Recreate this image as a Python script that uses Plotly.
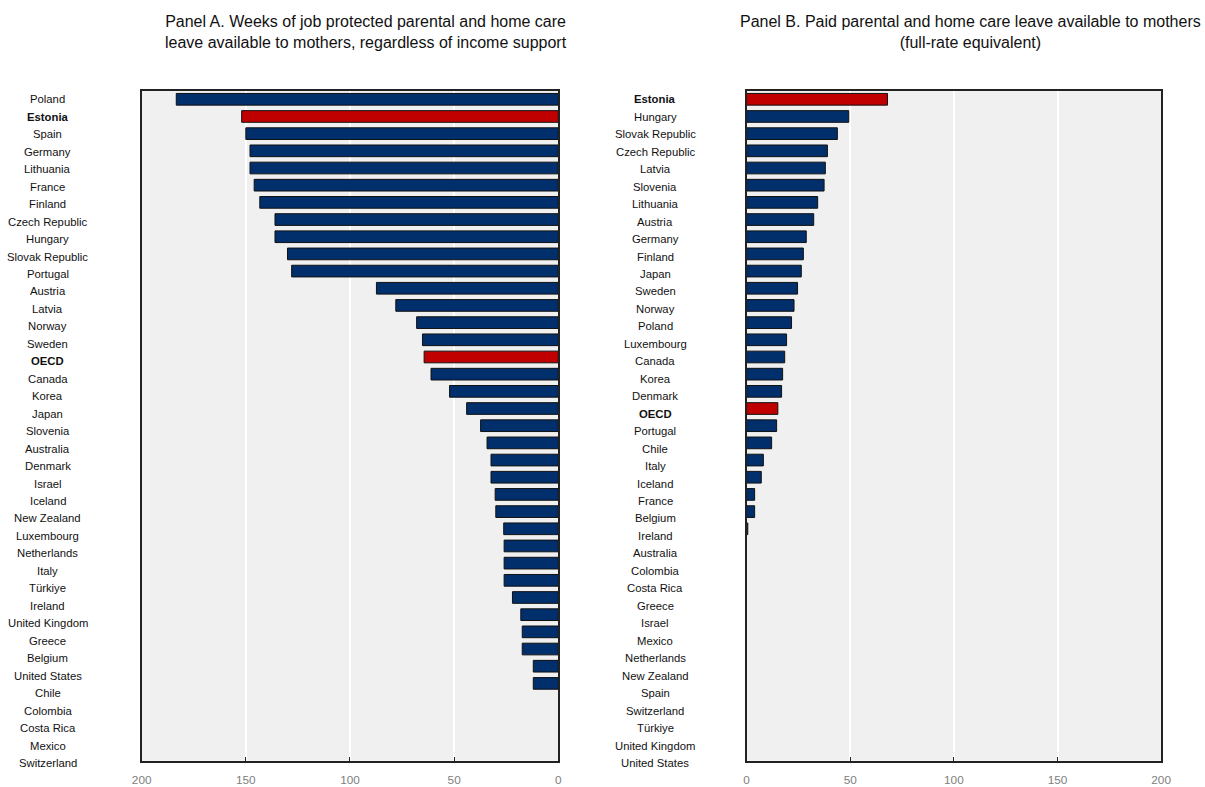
import plotly.graph_objects as go

# Panel A: weeks of job-protected parental and home care leave
countries_a = ["Poland", "Estonia", "Spain", "Germany", "Lithuania", "France", "Finland",
               "Czech Republic", "Hungary", "Slovak Republic", "Portugal", "Austria", "Latvia",
               "Norway", "Sweden", "OECD", "Canada", "Korea", "Japan", "Slovenia", "Australia",
               "Denmark", "Israel", "Iceland", "New Zealand", "Luxembourg", "Netherlands", "Italy",
               "Türkiye", "Ireland", "United Kingdom", "Greece", "Belgium", "United States",
               "Chile", "Colombia", "Costa Rica", "Mexico", "Switzerland"]
weeks_a = [183.4, 152.0, 150.0, 148.0, 148.0, 146.0, 143.3, 136.0, 136.0, 130.0, 128.0,
           87.3, 78.0, 68.0, 65.2, 64.4, 61.1, 52.2, 44.0, 37.3, 34.2, 32.3, 32.3, 30.3, 30.0,
           26.2, 26.0, 26.0, 26.0, 22.0, 18.0, 17.3, 17.3, 12.0, 12.0, 0, 0, 0, 0]

# Panel B: paid parental and home care leave (full-rate equivalent weeks)
countries_b = ["Estonia", "Hungary", "Slovak Republic", "Czech Republic", "Latvia", "Slovenia",
               "Lithuania", "Austria", "Germany", "Finland", "Japan", "Sweden", "Norway", "Poland",
               "Luxembourg", "Canada", "Korea", "Denmark", "OECD", "Portugal", "Chile", "Italy",
               "Iceland", "France", "Belgium", "Ireland", "Australia", "Colombia", "Costa Rica",
               "Greece", "Israel", "Mexico", "Netherlands", "New Zealand", "Spain", "Switzerland",
               "Türkiye", "United Kingdom", "United States"]
weeks_b = [68.0, 49.3, 43.8, 39.0, 38.0, 37.4, 34.3, 32.4, 28.8, 27.4, 26.4, 24.6, 22.9, 21.7,
           19.3, 18.4, 17.4, 16.9, 15.1, 14.5, 12.1, 8.1, 7.1, 3.9, 3.9, 0.6,
           0, 0, 0, 0, 0, 0, 0, 0, 0, 0, 0, 0, 0]

highlight = {"Estonia", "OECD"}
title_a = "Panel A. Weeks of job protected parental and home care<br>leave available to mothers, regardless of income support"
title_b = "Panel B. Paid parental and home care leave available to mothers<br>(full-rate equivalent)"
x_ticks = [0, 50, 100, 150, 200]

NAVY = "#002F6C"
RED = "#C00000"
PANEL_BG = "#F0F0F0"
FRAME = "#222222"
FONT = "Liberation Sans, Arial, sans-serif"
W, H = 1205, 787


def colours(cats):
    return [RED if c in highlight else NAVY for c in cats]


def outlines(vals):
    return [1 if v > 0 else 0 for v in vals]


def px(x):
    """Horizontal page pixel to paper fraction."""
    return (x - 10.5) / 1183.3


def py(y):
    """Vertical page pixel (from top) to paper fraction."""
    return (H - y) / H


fig = go.Figure()

fig.add_trace(go.Bar(x=weeks_a, y=countries_a, orientation="h", width=0.68,
                     marker=dict(color=colours(countries_a),
                                 line=dict(color="#111111", width=outlines(weeks_a))),
                     xaxis="x", yaxis="y", showlegend=False))
fig.add_trace(go.Bar(x=weeks_b, y=countries_b, orientation="h", width=0.68,
                     marker=dict(color=colours(countries_b),
                                 line=dict(color="#111111", width=outlines(weeks_b))),
                     xaxis="x2", yaxis="y2", showlegend=False))

# invisible anchors for the country label columns
fig.add_trace(go.Scatter(x=[0] * len(countries_a), y=countries_a, mode="markers",
                         marker=dict(opacity=0), hoverinfo="skip", showlegend=False,
                         xaxis="x3", yaxis="y3"))
fig.add_trace(go.Scatter(x=[0] * len(countries_b), y=countries_b, mode="markers",
                         marker=dict(opacity=0), hoverinfo="skip", showlegend=False,
                         xaxis="x4", yaxis="y4"))

plot_dom = [py(760.7), py(90.7)]
label_dom = [py(771.7), py(90.6)]
n = len(countries_a)

xcommon = dict(tickvals=x_ticks, ticks="inside", ticklen=4, tickcolor=FRAME,
               showline=True, linecolor=FRAME, linewidth=1.5, mirror=True,
               showgrid=True, gridcolor="#FFFFFF", gridwidth=1.5, zeroline=False,
               ticklabelstandoff=7,
               tickfont=dict(family=FONT, size=11.8, color="#808080"), fixedrange=True)
ycommon = dict(type="category", range=[n - 0.5, -0.5], showticklabels=False, ticks="",
               showline=True, linecolor=FRAME, linewidth=1.5, mirror=True,
               showgrid=False, zeroline=False, domain=plot_dom)

fig.update_layout(
    width=W, height=H,
    margin=dict(l=0, r=0, t=0, b=0),
    paper_bgcolor="white", plot_bgcolor="rgba(0,0,0,0)",
    xaxis=dict(domain=[px(142), px(558)], range=[200, 0], anchor="y", **xcommon),
    yaxis=dict(anchor="x", categoryarray=countries_a, categoryorder="array", **ycommon),
    xaxis2=dict(domain=[px(746), px(1160)], range=[0, 200], anchor="y2", **xcommon),
    yaxis2=dict(anchor="x2", categoryarray=countries_b, categoryorder="array", **ycommon),
    xaxis3=dict(domain=[px(20), px(30)], anchor="y3", visible=False, range=[0, 1]),
    yaxis3=dict(domain=label_dom, anchor="x3", visible=False, type="category",
                categoryarray=countries_a, categoryorder="array", range=[n - 0.5, -0.5]),
    xaxis4=dict(domain=[px(620), px(630)], anchor="y4", visible=False, range=[0, 1]),
    yaxis4=dict(domain=label_dom, anchor="x4", visible=False, type="category",
                categoryarray=countries_b, categoryorder="array", range=[n - 0.5, -0.5]),
)

# light grey panel backgrounds, beneath the gridlines
shapes = [dict(type="rect", xref=f"{xa} domain", yref=f"{ya} domain", x0=0, x1=1, y0=0, y1=1,
               fillcolor=PANEL_BG, line=dict(width=0), layer="below")
          for xa, ya in (("x", "y"), ("x2", "y2"))]

annotations = []
for cats, yref, xc in ((countries_a, "y3", px(48)), (countries_b, "y4", px(655))):
    for c in cats:
        txt = f"<b>{c}</b>" if c in highlight else c
        annotations.append(dict(x=xc, y=c, xref="paper", yref=yref, text=txt, showarrow=False,
                                xanchor="center", yanchor="middle",
                                font=dict(family=FONT, size=11.3, color="#111111")))

for txt, xc in ((title_a, px(366)), (title_b, px(970))):
    annotations.append(dict(x=xc, y=py(32), xref="paper", yref="paper", text=txt,
                            showarrow=False, xanchor="center", yanchor="middle", align="center",
                            font=dict(family=FONT, size=16, color="#111111")))

fig.update_layout(annotations=annotations, shapes=shapes)

fig.write_html("out.html")
